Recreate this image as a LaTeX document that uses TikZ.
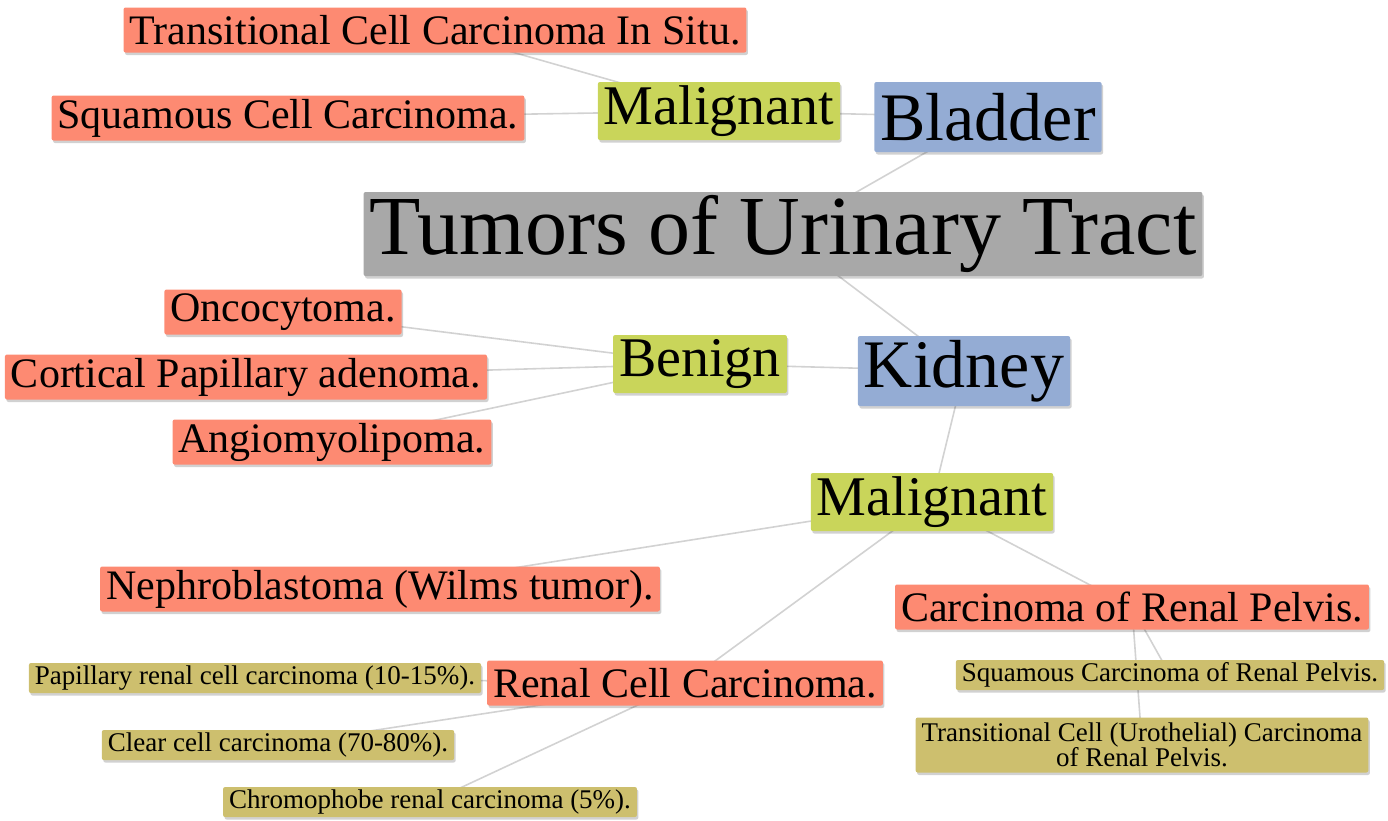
\documentclass[tikz,border=0pt]{standalone}
\usepackage{fontspec}
\setmainfont{Liberation Serif}
\usepackage{tikz}
\usetikzlibrary{shadows,backgrounds}

\definecolor{rootgray}{RGB}{168,168,168}
\definecolor{organblue}{RGB}{148,172,212}
\definecolor{kindgreen}{RGB}{201,213,90}
\definecolor{itemsalmon}{RGB}{253,138,114}
\definecolor{subolive}{RGB}{205,191,110}
\definecolor{linkgray}{RGB}{210,210,210}

\begin{document}
\begin{tikzpicture}[
  x=1pt,y=-1pt,
  box/.style={rounded corners=2pt,inner xsep=6pt,inner ysep=0pt,
    drop shadow={shadow xshift=1.5pt,shadow yshift=-2.5pt,opacity=0.18,fill=black}},
  root/.style={box,fill=rootgray,minimum height=84,font=\fontsize{84}{86}\selectfont},
  organ/.style={box,fill=organblue,minimum height=70,font=\fontsize{68}{70}\selectfont},
  kind/.style={box,fill=kindgreen,minimum height=58,font=\fontsize{56}{58}\selectfont},
  item/.style={box,fill=itemsalmon,minimum height=45,font=\fontsize{42}{44}\selectfont},
  sub/.style={box,fill=subolive,minimum height=30,font=\fontsize{27}{28}\selectfont},
  link/.style={draw=linkgray,line width=1.6pt}
]
  \useasboundingbox (0,0) rectangle (1388,820);

  % Root and the two organs.
  \node[root]  (tumors)  at (783,234) {Tumors of Urinary Tract};
  \node[organ] (bladder) at (988,117) {Bladder};
  \node[organ] (kidney)  at (964,371) {Kidney};

  % Bladder branch.
  \node[kind] (bmal) at (719,111) {Malignant};
  \node[item] (cis)  at (435,30)  {Transitional Cell Carcinoma In Situ.};
  \node[item] (bsq)  at (288,118) {Squamous Cell Carcinoma.};

  % Kidney, benign.
  \node[kind] (benign) at (700,364) {Benign};
  \node[item] (onco)   at (283,312) {Oncocytoma.};
  \node[item] (cort)   at (246,377) {Cortical Papillary adenoma.};
  \node[item] (angio)  at (332,442) {Angiomyolipoma.};

  % Kidney, malignant.
  \node[kind] (kmal)   at (932,502) {Malignant};
  \node[item] (wilms)  at (380,589) {Nephroblastoma (Wilms tumor).};
  \node[item] (pelvis) at (1132,607) {Carcinoma of Renal Pelvis.};
  \node[item] (rcc)    at (685,683) {Renal Cell Carcinoma.};

  \node[sub] (psq)  at (1170,675) {Squamous Carcinoma of Renal Pelvis.};
  \node[sub,minimum height=55,align=center] (ptcc) at (1142,745)
    {Transitional Cell (Urothelial) Carcinoma\\[-3pt]of Renal Pelvis.};
  \node[sub] (pap)    at (255,678) {Papillary renal cell carcinoma (10-15\%).};
  \node[sub] (clear)  at (278,745) {Clear cell carcinoma (70-80\%).};
  \node[sub] (chromo) at (430,802) {Chromophobe renal carcinoma (5\%).};

  % Connectors, behind the boxes.
  \begin{scope}[on background layer]
    \foreach \a/\b in {tumors/bladder,tumors/kidney,bladder/bmal,bmal/cis,bmal/bsq,
      kidney/benign,benign/onco,benign/cort,benign/angio,kidney/kmal,
      kmal/wilms,kmal/pelvis,kmal/rcc,pelvis/psq,pelvis/ptcc,
      rcc/pap,rcc/clear,rcc/chromo}
      \draw[link] (\a.center) -- (\b.center);
  \end{scope}
\end{tikzpicture}
\end{document}
